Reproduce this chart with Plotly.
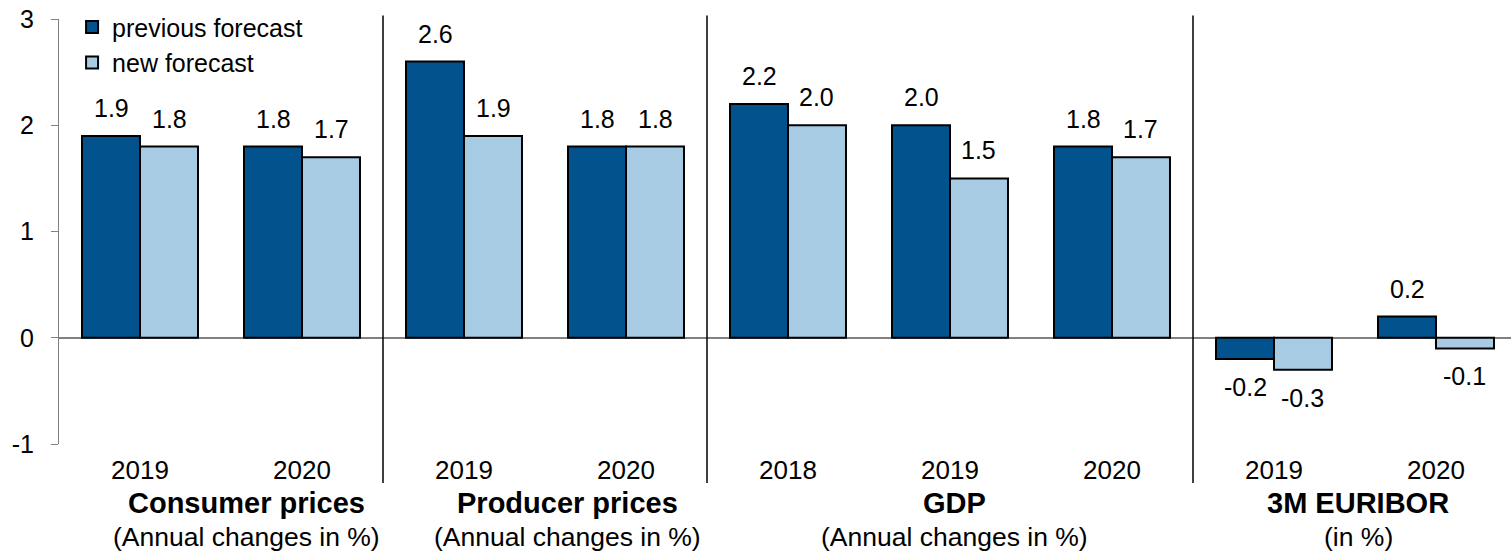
import plotly.graph_objects as go

# ---- data ----
years = ["2019", "2020", "2019", "2020", "2018", "2019", "2020", "2019", "2020"]
previous_forecast = [1.9, 1.8, 2.6, 1.8, 2.2, 2.0, 1.8, -0.2, 0.2]
new_forecast = [1.8, 1.7, 1.9, 1.8, 2.0, 1.5, 1.7, -0.3, -0.1]
group_titles = ["Consumer prices", "Producer prices", "GDP", "3M EURIBOR"]
group_subtitles = ["(Annual changes in %)", "(Annual changes in %)",
                   "(Annual changes in %)", "(in %)"]
group_sizes = [2, 2, 3, 2]
y_ticks = [-1, 0, 1, 2, 3]

# ---- style ----
DARK = "#02528E"
LIGHT = "#A6CBE3"
FONT = "Liberation Sans, Arial, sans-serif"
BARGAP = 0.284

xs = list(range(len(years)))
fig = go.Figure()
fig.add_trace(go.Bar(x=xs, y=previous_forecast, name="previous forecast",
                     marker=dict(color=DARK, line=dict(color="black", width=2))))
fig.add_trace(go.Bar(x=xs, y=new_forecast, name="new forecast",
                     marker=dict(color=LIGHT, line=dict(color="black", width=2))))

# value labels
half = (1 - BARGAP) / 2
ann = []
for series, off in ((previous_forecast, -half / 2), (new_forecast, half / 2)):
    for i, v in enumerate(series):
        pos = v >= 0
        ann.append(dict(x=i + off, y=v, xref="x", yref="y", text=f"{v:.1f}",
                        showarrow=False, font=dict(family=FONT, size=25, color="black"),
                        yanchor="bottom" if pos else "top",
                        yshift=12 if pos else -12))

# group titles and separators
title_shift = [0.16, 0.14, 0.03, 0.02]
start = 0
shapes = []
for k, n in enumerate(group_sizes):
    center = start + (n - 1) / 2 + title_shift[k]
    ann.append(dict(x=center, y=-0.139, xref="x", yref="paper", text=f"<b>{group_titles[k]}</b>",
                    showarrow=False, font=dict(family=FONT, size=29, color="black"),
                    yanchor="middle"))
    ann.append(dict(x=center, y=-0.219, xref="x", yref="paper", text=group_subtitles[k],
                    showarrow=False, font=dict(family=FONT, size=26.5, color="black"),
                    yanchor="middle"))
    start += n
    if k < len(group_sizes) - 1:
        shapes.append(dict(type="line", xref="x", yref="paper", x0=start - 0.5, x1=start - 0.5,
                           y0=1.008, y1=-0.092, line=dict(color="black", width=1.5)))

fig.update_layout(
    width=1511, height=552,
    margin=dict(l=59, r=0, t=19, b=108, autoexpand=False),
    plot_bgcolor="white", paper_bgcolor="white",
    barmode="group", bargap=BARGAP, bargroupgap=0,
    font=dict(family=FONT, size=26, color="black"),
    showlegend=True,
    legend=dict(x=0.009, y=1.035, xanchor="left", yanchor="top", bgcolor="rgba(0,0,0,0)",
                font=dict(family=FONT, size=25), tracegroupgap=0),
    annotations=ann, shapes=shapes,
    xaxis=dict(tickmode="array", tickvals=xs, ticktext=years, range=[-0.5, 8.463],
               showline=False, showgrid=False, zeroline=False, ticks="",
               ticklabelstandoff=8, tickfont=dict(family=FONT, size=26)),
    yaxis=dict(range=[-1, 3], tickmode="array", tickvals=y_ticks,
               ticktext=[str(t) for t in y_ticks], showgrid=False, showline=True,
               linecolor="#808080", linewidth=1, ticks="outside", ticklen=7,
               tickcolor="#808080", zeroline=True, zerolinecolor="#808080",
               zerolinewidth=1.5, ticklabelstandoff=12,
               tickfont=dict(family=FONT, size=25)),
)

fig.write_html("out.html", config={"displayModeBar": False},
               post_script="document.body.style.margin='0';")
